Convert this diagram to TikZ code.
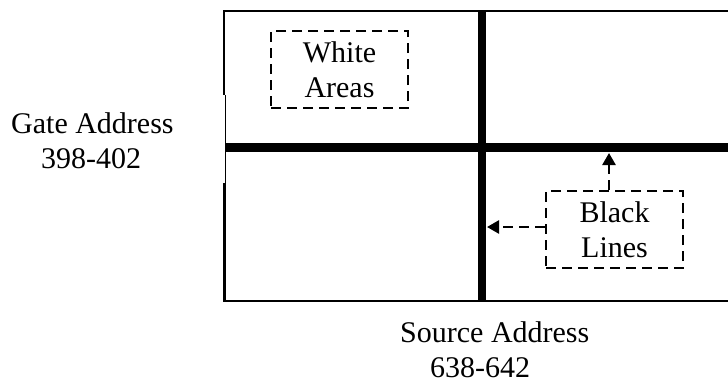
\documentclass[tikz,border=0pt]{standalone}
\usepackage{fontspec}
\setmainfont{Liberation Serif}
\usetikzlibrary{arrows.meta}
\begin{document}
\begin{tikzpicture}[x=1pt,y=-1pt,
  lbl/.style={inner sep=0pt,font=\fontsize{30}{35}\selectfont},
  dbox/.style={lbl,draw,line width=2.5pt,dash pattern=on 10pt off 6pt,
    minimum width=137pt,minimum height=77pt,align=center},
  darrow/.style={line width=2.5pt,dash pattern=on 10pt off 6pt,
    -{Triangle[length=12pt,width=13pt]}},
  thick line/.style={line width=8.5pt}]
\useasboundingbox (0,0) rectangle (728,383);
% frame
\draw[line width=2pt] (728,11) -- (224.3,11) -- (224.3,95);
\draw[line width=1pt] (225,95) -- (225,183);
\draw[line width=2.5pt] (224.5,183) -- (224.5,301) -- (728,301);
% black lines
\draw[thick line] (225,147.5) -- (728,147.5);
\draw[thick line] (482,10) -- (482,302);
% boxes
\node[dbox] (wa) at (339.5,69.5) {White\\Areas};
\node[dbox] (bl) at (614.5,229.5) {Black\\Lines};
% arrow targets
\coordinate (hlpt) at (609,153);
\coordinate (vlpt) at (487,227);
\draw[darrow] ([xshift=-5.5pt]bl.north) -- (hlpt);
\draw[darrow] (bl.west |- vlpt) -- (vlpt);
% axis labels
\node[lbl,anchor=west,align=left] (gate) at (11,141) {Gate Address\\\hspace*{30pt}398-402};
\node[lbl,anchor=west,align=left] (src) at (400,350) {Source Address\\\hspace*{30pt}638-642};
\end{tikzpicture}
\end{document}
